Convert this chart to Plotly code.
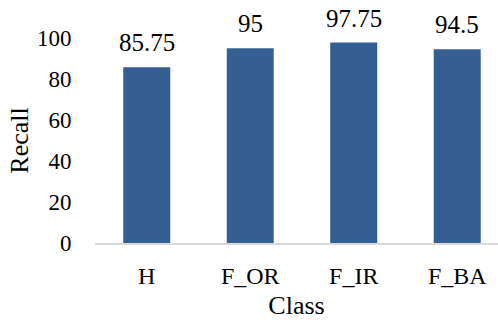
import plotly.graph_objects as go

categories = ["H", "F_OR", "F_IR", "F_BA"]
recall = [85.75, 95, 97.75, 94.5]
y_ticks = [0, 20, 40, 60, 80, 100]

bar_color = "#355E92"
font_family = "'Times New Roman', 'Liberation Serif', serif"

fig = go.Figure(
    go.Bar(
        x=categories,
        y=recall,
        marker=dict(color=bar_color, line=dict(width=0)),
        hoverinfo="skip",
    )
)

# value labels above each bar
for cat, val in zip(categories, recall):
    fig.add_annotation(
        x=cat, y=val, text=f"{val:g}", showarrow=False,
        yanchor="bottom", yshift=9,
        font=dict(family=font_family, size=25, color="black"),
    )

fig.update_layout(
    width=498, height=320,
    margin=dict(l=95, r=0, t=38, b=74),
    paper_bgcolor="white", plot_bgcolor="white",
    bargap=0.546,
    showlegend=False,
    font=dict(family=font_family, size=23, color="black"),
)

fig.update_xaxes(
    type="category",
    range=[-0.5, 3.394],
    showline=True, linecolor="#D9D9D9", linewidth=1.5,
    showgrid=False, zeroline=False,
    ticks="outside", ticklen=10, tickcolor="rgba(0,0,0,0)",
    tickfont=dict(family=font_family, size=24, color="black"),
    title=dict(text="Class", font=dict(family=font_family, size=26, color="black"), standoff=13),
)

fig.update_yaxes(
    range=[0, 100],
    tickvals=y_ticks,
    showline=False, showgrid=False, zeroline=False,
    ticks="outside", ticklen=18, tickcolor="rgba(0,0,0,0)",
    tickfont=dict(family=font_family, size=23, color="black"),
    title=dict(text="Recall", font=dict(family=font_family, size=26, color="black"), standoff=0),
)

fig.write_html("out.html", config={"displayModeBar": False})
